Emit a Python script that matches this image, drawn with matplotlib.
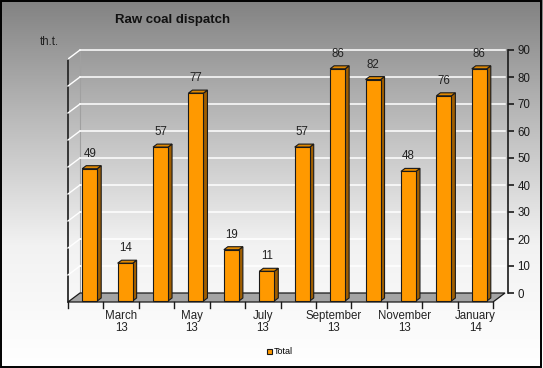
import numpy as np
import matplotlib
matplotlib.use('Agg')
import matplotlib.pyplot as plt
from matplotlib.colors import LinearSegmentedColormap
from matplotlib.patches import Polygon, Rectangle

plt.rcParams['font.family'] = ['Liberation Sans', 'DejaVu Sans']

# Data
months = ['February\n13', 'March\n13', 'April\n13', 'May\n13', 'June\n13', 'July\n13',
          'August\n13', 'September\n13', 'October\n13', 'November\n13', 'December\n13',
          'January\n14']
total = [49, 14, 57, 77, 19, 11, 57, 86, 82, 48, 76, 86]
yticks = [0, 10, 20, 30, 40, 50, 60, 70, 80, 90]

W, H = 543, 368
fig = plt.figure(figsize=(W / 100, H / 100), dpi=100)

# background gradient
bg = fig.add_axes([0, 0, 1, 1])
grad = np.linspace(0, 1, 256).reshape(-1, 1)
cm = LinearSegmentedColormap.from_list('bg', ['#828282', '#bcbcbc', '#f2f2f2', '#ffffff'])
bg.imshow(grad, aspect='auto', cmap=cm, extent=[0, 1, 0, 1])
bg.set_xlim(0, 1)
bg.set_ylim(0, 1)
bg.axis('off')
bg.add_patch(Rectangle((0.001, 0.002), 0.996, 0.995, fill=False, ec='black', lw=1.4,
                       transform=bg.transAxes))

# back wall of the 3d plot
ax = fig.add_axes([80 / W, 75 / H, 425 / W, 243 / H])
ax.set_xlim(0, 12)
ax.set_ylim(0, 90)
ax.patch.set_alpha(0)
sx = 425 / 12.0   # px per category
sy = 243 / 90.0   # px per unit

# depth of the plot (front plane relative to back wall)
ddx, ddy = -12 / sx, -9 / sy
# bar front plane and bar depth
fdx, fdy = -8 / sx, -8 / sy
bdx, bdy = 4 / sx, 3 / sy
bw = 15 / sx

# left side wall edges
ax.plot([ddx, ddx], [ddy, 90 + ddy], color='#2a2a2a', lw=1.3, clip_on=False)
ax.plot([0, 0], [0, 90], color='#a0a0a0', lw=0.8, clip_on=False)

# gridlines on back and side wall
for v in yticks[1:]:
    ax.plot([0, 12], [v, v], color='white', lw=1.1, clip_on=False)
    ax.plot([0, ddx], [v, v + ddy], color='white', lw=1.0, clip_on=False)

# floor
ax.add_patch(Polygon([(0, 0), (12, 0), (12 + ddx, ddy), (ddx, ddy)], closed=True,
                     fc='#a4a4a4', ec='#1a1a1a', lw=0.9, clip_on=False, zorder=2))

# bars
x = np.arange(len(total)) + 0.5 + fdx
bars = ax.bar(x, total, width=bw, bottom=fdy, color='#ff9900', edgecolor='#1a1a1a',
              linewidth=0.8, label='Total', zorder=4, clip_on=False)
for xi, v in zip(x, total):
    xl, xr = xi - bw / 2, xi + bw / 2
    t = v + fdy
    ax.add_patch(Polygon([(xr, fdy), (xr, t), (xr + bdx, t + bdy), (xr + bdx, fdy + bdy)],
                         closed=True, fc='#a05e00', ec='#1a1a1a', lw=0.8, zorder=3,
                         clip_on=False))
    ax.add_patch(Polygon([(xl, t), (xr, t), (xr + bdx, t + bdy), (xl + bdx, t + bdy)],
                         closed=True, fc='#e08800', ec='#1a1a1a', lw=0.8, zorder=3,
                         clip_on=False))
    ax.text(xi, t + 9 / sy, str(v), ha='center', va='bottom', fontsize=8.3,
            color='#222222')

# right value axis
for s in ['top', 'left', 'bottom']:
    ax.spines[s].set_visible(False)
ax.spines['right'].set_position(('outward', 2))
ax.spines['right'].set_color('#1a1a1a')
ax.spines['right'].set_linewidth(1.2)
ax.yaxis.tick_right()
ax.set_yticks(yticks)
ax.tick_params(axis='y', direction='out', length=4, width=1.2, pad=3, labelsize=8.3,
               colors='#1a1a1a')
ax.set_xticks([])

# category ticks along front edge of the floor
for k in range(len(total) + 1):
    ax.plot([k + ddx, k + ddx], [ddy, ddy - 6 / sy], color='#1a1a1a', lw=1.0,
            clip_on=False)
for k, lab in enumerate(months):
    if k % 2 == 1:
        ax.text(k + 0.5 + ddx, ddy - 8 / sy, lab, ha='center', va='top', fontsize=8.3,
                linespacing=1.0, color='#222222')

fig.text(115 / W, 1 - 20 / H, 'Raw coal dispatch', fontsize=9.5, fontweight='bold',
         va='center', ha='left', color='#111111')
fig.text(40 / W, 1 - 42 / H, 'th.t.', fontsize=8.3, va='center', ha='left', color='#222222')

fig.legend(handles=[bars], labels=['Total'], loc='center',
           bbox_to_anchor=(280 / W, 1 - 352 / H), frameon=False, fontsize=6.5,
           handlelength=0.55, handleheight=0.55, handletextpad=0.25)

fig.savefig('out.png', dpi=100)
